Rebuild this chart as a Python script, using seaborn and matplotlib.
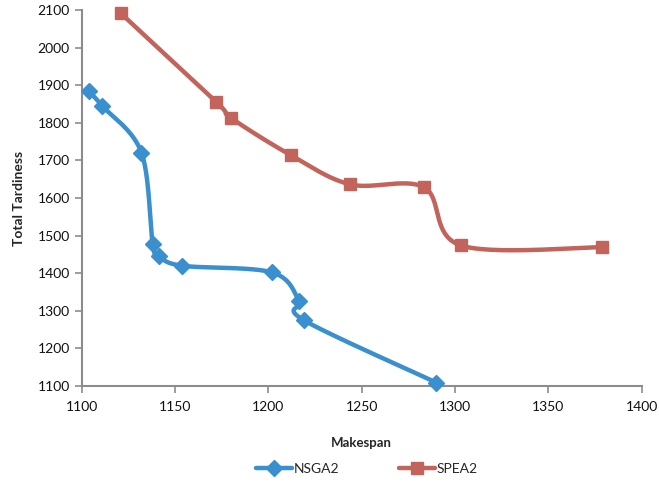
import numpy as np
import pandas as pd
import matplotlib
matplotlib.use("Agg")
import matplotlib.pyplot as plt
import seaborn as sns
from matplotlib.lines import Line2D

# values
nsga2_makespan = [1104, 1111, 1132, 1138, 1141.5, 1153.5, 1202, 1216.5, 1219, 1290]
nsga2_tardiness = [1884, 1845, 1721, 1478, 1447, 1420, 1402, 1326, 1275, 1109]
spea2_makespan = [1121, 1172, 1180, 1212, 1244, 1283.5, 1303, 1379]
spea2_tardiness = [2091, 1856, 1813, 1714, 1636, 1628, 1474, 1469]

blue = "#3A8FCE"
red = "#C2635C"
grey = "#8C8C8C"


def smooth(xs, ys, n=30):
    # Excel style smoothed line: Catmull-Rom bezier through the points
    p = np.column_stack([xs, ys]).astype(float)
    p = np.vstack([p[0], p, p[-1]])
    out = []
    for i in range(1, len(p) - 2):
        p0, p1, p2, p3 = p[i - 1], p[i], p[i + 1], p[i + 2]
        c1 = p1 + (p2 - p0) / 6
        c2 = p2 - (p3 - p1) / 6
        t = np.linspace(0, 1, n)[:, None]
        seg = ((1 - t) ** 3) * p1 + 3 * ((1 - t) ** 2) * t * c1 + 3 * (1 - t) * t ** 2 * c2 + t ** 3 * p2
        out.append(seg if i == 1 else seg[1:])
    out = np.vstack(out)
    return pd.DataFrame({"x": out[:, 0], "y": out[:, 1]})


sns.set_style("white")
plt.rcParams["font.family"] = ["Lato", "DejaVu Sans"]

fig = plt.figure(figsize=(6.59, 4.86), dpi=100)
ax = fig.add_axes([0.124, 0.2058, 0.8497, 0.7736])

for xs, ys, col, mk, ms in [(nsga2_makespan, nsga2_tardiness, blue, "D", 8),
                             (spea2_makespan, spea2_tardiness, red, "s", 9)]:
    curve = smooth(xs, ys)
    sns.lineplot(data=curve, x="x", y="y", sort=False, estimator=None,
                 color=col, linewidth=3.2, ax=ax)
    ax.plot(xs, ys, linestyle="none", marker=mk, markersize=ms,
            color=col, markeredgecolor=col, zorder=3, clip_on=False)

ax.set_xlim(1100, 1400)
ax.set_ylim(1100, 2100)
ax.set_xticks(np.arange(1100, 1401, 50))
ax.set_yticks(np.arange(1100, 2101, 100))

for s in ["top", "right"]:
    ax.spines[s].set_visible(False)
for s in ["left", "bottom"]:
    ax.spines[s].set_color(grey)
    ax.spines[s].set_linewidth(1.5)
ax.tick_params(axis="both", direction="out", length=5, width=1.2, color=grey,
               labelsize=10, labelcolor="#111111", bottom=True, left=True)
ax.tick_params(axis="x", pad=6)

ax.set_xlabel("Makespan", fontsize=9.5, fontweight="bold", labelpad=17)
ax.set_ylabel("Total Tardiness", fontsize=10, fontweight="bold", labelpad=9)

handles = [Line2D([0], [0], color=blue, lw=3.2, marker="D", markersize=8),
           Line2D([0], [0], color=red, lw=3.2, marker="s", markersize=9)]
fig.legend(handles, ["NSGA2", "SPEA2"], loc="center", bbox_to_anchor=(0.557, 0.036),
           ncol=2, frameon=False, fontsize=10, handlelength=2.6, handletextpad=0.1,
           columnspacing=4.3)

fig.savefig("out.png", dpi=100)
